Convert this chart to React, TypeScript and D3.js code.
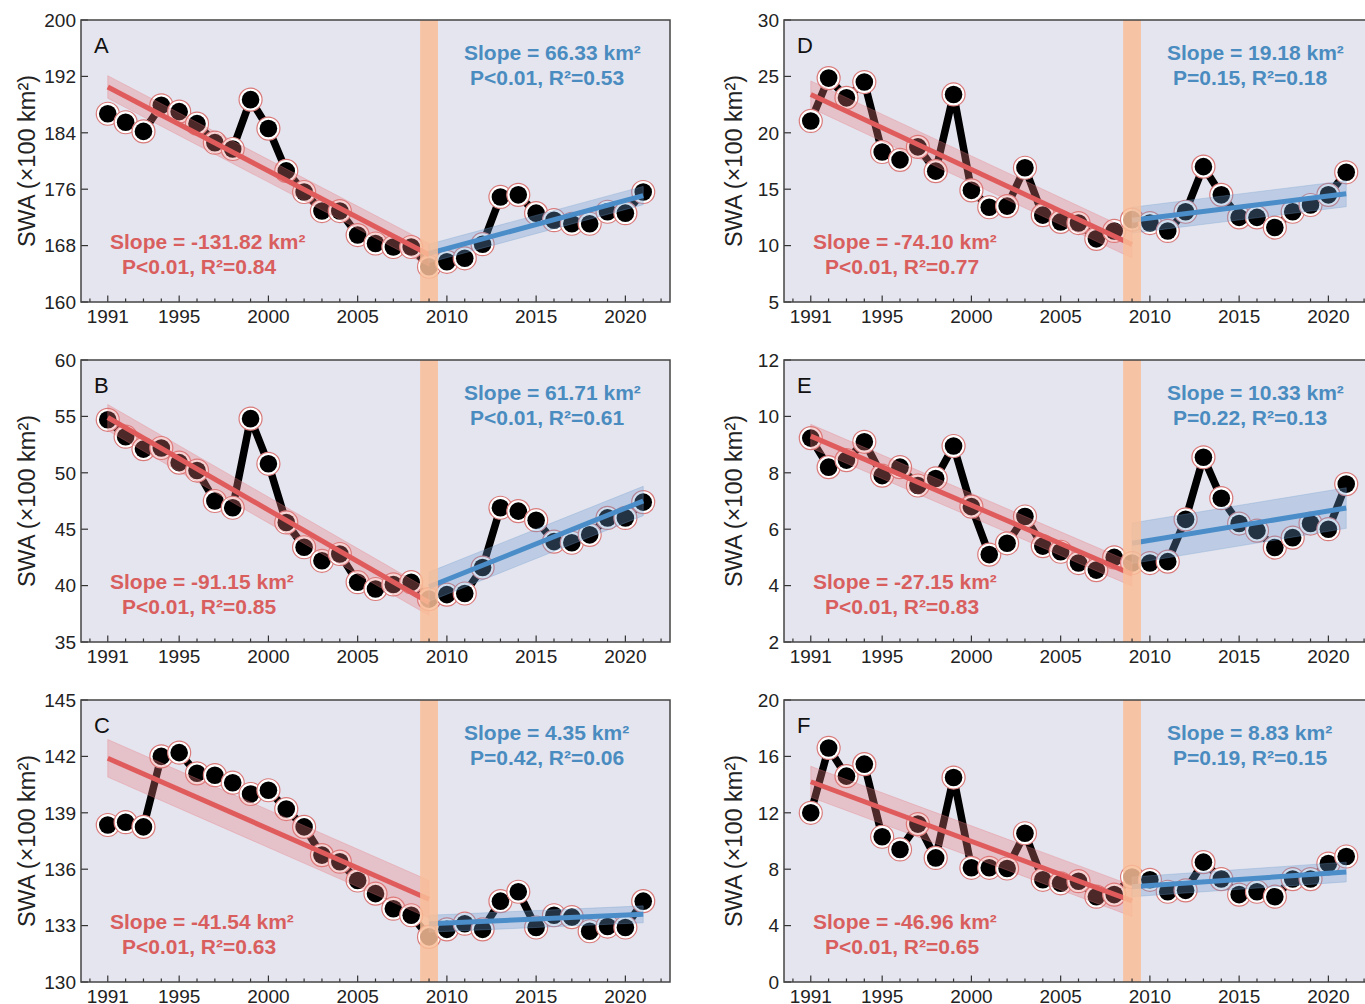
import React from 'react';
import * as d3 from 'd3';

// ---------- data ----------
const years = [1991, 1992, 1993, 1994, 1995, 1996, 1997, 1998, 1999, 2000, 2001, 2002, 2003, 2004, 2005, 2006, 2007, 2008, 2009, 2010, 2011, 2012, 2013, 2014, 2015, 2016, 2017, 2018, 2019, 2020, 2021];

const swaA = [186.7, 185.5, 184.2, 187.9, 187.0, 185.3, 182.6, 181.7, 188.7, 184.6, 178.6, 175.6, 172.9, 172.9, 169.5, 168.3, 167.8, 167.8, 165.0, 165.7, 166.2, 168.2, 174.9, 175.2, 172.6, 171.6, 171.1, 171.1, 172.8, 172.6, 175.6];
const swaB = [54.7, 53.2, 52.1, 52.2, 50.9, 50.2, 47.5, 46.9, 54.8, 50.8, 45.6, 43.4, 42.2, 42.8, 40.3, 39.7, 40.1, 40.3, 38.8, 39.2, 39.3, 41.6, 46.9, 46.6, 45.8, 43.9, 43.8, 44.5, 46.0, 46.0, 47.4];
const swaC = [138.35, 138.5, 138.25, 142.0, 142.2, 141.1, 141.0, 140.6, 140.0, 140.2, 139.2, 138.25, 136.75, 136.4, 135.4, 134.7, 133.9, 133.55, 132.4, 132.8, 133.1, 132.8, 134.3, 134.8, 132.9, 133.55, 133.45, 132.7, 132.95, 132.9, 134.3];
const swaD = [21.05, 24.85, 23.1, 24.5, 18.3, 17.6, 18.75, 16.6, 23.4, 14.9, 13.4, 13.5, 16.9, 12.7, 12.1, 12.0, 10.6, 11.3, 12.3, 12.0, 11.3, 13.0, 17.0, 14.5, 12.5, 12.5, 11.6, 13.0, 13.6, 14.5, 16.5];
const swaE = [9.23, 8.2, 8.45, 9.1, 7.9, 8.2, 7.55, 7.8, 8.95, 6.8, 5.1, 5.5, 6.45, 5.4, 5.2, 4.8, 4.55, 5.0, 4.8, 4.8, 4.85, 6.35, 8.55, 7.1, 6.2, 5.95, 5.35, 5.7, 6.2, 6.0, 7.6];
const swaF = [12.0, 16.6, 14.6, 15.45, 10.3, 9.4, 11.2, 8.8, 14.5, 8.1, 8.1, 8.05, 10.55, 7.25, 7.0, 7.15, 6.05, 6.2, 7.45, 7.25, 6.4, 6.5, 8.5, 7.3, 6.2, 6.4, 6.05, 7.3, 7.3, 8.4, 8.9];

// trend segments: [value at start year, value at end year]
const redYears = [1991, 2009];
const blueYears = [2009, 2021];
const redTrendA = [190.5, 166.7];
const blueTrendA = [166.9, 175.1];
const redTrendB = [54.9, 38.5];
const blueTrendB = [39.9, 47.5];
const redTrendC = [141.9, 134.4];
const blueTrendC = [133.1, 133.6];
const redTrendD = [23.4, 10.1];
const blueTrendD = [12.25, 14.6];
const redTrendE = [9.3, 4.4];
const blueTrendE = [5.5, 6.75];
const redTrendF = [14.2, 5.75];
const blueTrendF = [6.75, 7.8];
// half-width of confidence bands (data units): [red, blue]
const bandA = [1.6, 1.3];
const bandB = [1.15, 1.3];
const bandC = [1.0, 0.45];
const bandD = [1.2, 1.15];
const bandE = [0.42, 0.72];
const bandF = [1.1, 0.7];

const yTicksA = [160, 168, 176, 184, 192, 200];
const yTicksB = [35, 40, 45, 50, 55, 60];
const yTicksC = [130, 133, 136, 139, 142, 145];
const yTicksD = [5, 10, 15, 20, 25, 30];
const yTicksE = [2, 4, 6, 8, 10, 12];
const yTicksF = [0, 4, 8, 12, 16, 20];

const xTickLabels = [1991, 1995, 2000, 2005, 2010, 2015, 2020];
const xMinorTicks = [1990, 1991, 1992, 1993, 1994, 1995, 1996, 1997, 1998, 1999, 2000, 2001, 2002, 2003, 2004, 2005, 2006, 2007, 2008, 2009, 2010, 2011, 2012, 2013, 2014, 2015, 2016, 2017, 2018, 2019, 2020, 2021, 2022];
const breakYear = 2009;

const redLabels = [
  ['Slope = -131.82 km²', 'P<0.01, R²=0.84'],
  ['Slope = -91.15 km²', 'P<0.01, R²=0.85'],
  ['Slope = -41.54 km²', 'P<0.01, R²=0.63'],
  ['Slope = -74.10 km²', 'P<0.01, R²=0.77'],
  ['Slope = -27.15 km²', 'P<0.01, R²=0.83'],
  ['Slope = -46.96 km²', 'P<0.01, R²=0.65'],
];
const blueLabels = [
  ['Slope = 66.33 km²', 'P<0.01, R²=0.53'],
  ['Slope = 61.71 km²', 'P<0.01, R²=0.61'],
  ['Slope = 4.35 km²', 'P=0.42, R²=0.06'],
  ['Slope = 19.18 km²', 'P=0.15, R²=0.18'],
  ['Slope = 10.33 km²', 'P=0.22, R²=0.13'],
  ['Slope = 8.83 km²', 'P=0.19, R²=0.15'],
];
const panelIds = ['A', 'B', 'C', 'D', 'E', 'F'];

const panels = [
  { values: swaA, ticks: yTicksA, red: redTrendA, blue: blueTrendA, band: bandA, col: 0, row: 0 },
  { values: swaB, ticks: yTicksB, red: redTrendB, blue: blueTrendB, band: bandB, col: 0, row: 1 },
  { values: swaC, ticks: yTicksC, red: redTrendC, blue: blueTrendC, band: bandC, col: 0, row: 2 },
  { values: swaD, ticks: yTicksD, red: redTrendD, blue: blueTrendD, band: bandD, col: 1, row: 0 },
  { values: swaE, ticks: yTicksE, red: redTrendE, blue: blueTrendE, band: bandE, col: 1, row: 1 },
  { values: swaF, ticks: yTicksF, red: redTrendF, blue: blueTrendF, band: bandF, col: 1, row: 2 },
];

// ---------- layout ----------
const W = 1365;
const H = 1004;
const colLeft = [81, 784];
const titleOffset = [54, 50];
const rowTop = [20, 360, 700];
const PW = 589;
const PH = 282;
const FONT = '"Liberation Sans", Arial, Helvetica, sans-serif';
const BG = '#e5e5ef';
const RED = '#e05c5c';
const RED_TXT = '#d95f5f';
const BLUE = '#4a8dc8';
const BLUE_TXT = '#4a8cc0';

function Panel({ p, i }: { p: any; i: number }) {
  const left = colLeft[p.col];
  const top = rowTop[p.row];
  const x = d3.scaleLinear().domain([1989.5, 2022.5]).range([left, left + PW]);
  const y = d3.scaleLinear().domain([p.ticks[0], p.ticks[p.ticks.length - 1]]).range([top + PH, top]);
  const line = d3.line<number>().x((_, k) => x(years[k])).y((v) => y(v));
  const clipId = `clip${i}`;

  const bandPath = (yrs: number[], vals: number[], h: number) =>
    `M${x(yrs[0])},${y(vals[0] + h)}L${x(yrs[1])},${y(vals[1] + h)}L${x(yrs[1])},${y(vals[1] - h)}L${x(yrs[0])},${y(vals[0] - h)}Z`;

  return (
    <g>
      <defs>
        <clipPath id={clipId}>
          <rect x={left} y={top} width={PW} height={PH} />
        </clipPath>
      </defs>
      <rect x={left} y={top} width={PW} height={PH} fill={BG} />
      <g clipPath={`url(#${clipId})`}>
        <path d={line(p.values) || ''} fill="none" stroke="#000" strokeWidth={7.5} strokeLinejoin="round" />
        {p.values.map((v: number, k: number) => (
          <g key={k}>
            <circle cx={x(years[k])} cy={y(v)} r={11.5} fill="#fff" stroke="#d97a7a" strokeWidth={1.2} />
            <circle cx={x(years[k])} cy={y(v)} r={8.8} fill="#000" />
          </g>
        ))}
        <path d={bandPath(redYears, p.red, p.band[0])} fill="rgb(232,120,125)" fillOpacity={0.33} stroke="rgb(232,120,125)" strokeOpacity={0.3} strokeWidth={1} />
        <line x1={x(redYears[0])} y1={y(p.red[0])} x2={x(redYears[1])} y2={y(p.red[1])} stroke={RED} strokeWidth={5} />
        <path d={bandPath(blueYears, p.blue, p.band[1])} fill="rgb(110,155,205)" fillOpacity={0.33} stroke="rgb(110,155,205)" strokeOpacity={0.3} strokeWidth={1} />
        <line x1={x(blueYears[0])} y1={y(p.blue[0])} x2={x(blueYears[1])} y2={y(p.blue[1])} stroke={BLUE} strokeWidth={5} />
        <rect x={x(breakYear - 0.5)} y={top} width={x(breakYear + 0.5) - x(breakYear - 0.5)} height={PH} fill="#f9bd96" fillOpacity={0.85} />
      </g>
      {xMinorTicks.map((t) => {
        const major = xTickLabels.includes(t);
        return <line key={t} x1={x(t)} x2={x(t)} y1={top + PH} y2={top + PH - (major ? 6.5 : 3.5)} stroke="#333" strokeWidth={1.2} />;
      })}
      {xTickLabels.map((t) => (
        <text key={t} x={x(t)} y={top + PH + 21} textAnchor="middle" fontSize={19} fill="#222" fontFamily={FONT}>{t}</text>
      ))}
      {p.ticks.map((t: number) => (
        <g key={t}>
          <line x1={left} x2={left + 7} y1={y(t)} y2={y(t)} stroke="#333" strokeWidth={1.2} />
          <text x={left - 5} y={y(t)} dy="0.36em" textAnchor="end" fontSize={19} fill="#222" fontFamily={FONT}>{t}</text>
        </g>
      ))}
      <rect x={left} y={top} width={PW} height={PH} fill="none" stroke="#444" strokeWidth={1.5} />
      <text transform={`translate(${left - titleOffset[p.col]},${top + PH / 2}) rotate(-90)`} textAnchor="middle" dy="0.35em" fontSize={23.5} fill="#222" fontFamily={FONT}>SWA (×100 km²)</text>
      <text x={left + 13} y={top + 33} fontSize={22} fill="#111" fontFamily={FONT}>{panelIds[i]}</text>
      <text x={left + 29} y={top + 229} fontSize={21} fontWeight="bold" fill={RED_TXT} fontFamily={FONT}>{redLabels[i][0]}</text>
      <text x={left + 41} y={top + 254} fontSize={21} fontWeight="bold" fill={RED_TXT} fontFamily={FONT}>{redLabels[i][1]}</text>
      <text x={left + 383} y={top + 40} fontSize={21} fontWeight="bold" fill={BLUE_TXT} fontFamily={FONT}>{blueLabels[i][0]}</text>
      <text x={left + 389} y={top + 65} fontSize={21} fontWeight="bold" fill={BLUE_TXT} fontFamily={FONT}>{blueLabels[i][1]}</text>
    </g>
  );
}

export default function App() {
  return (
    <svg width={W} height={H} viewBox={`0 0 ${W} ${H}`} style={{ position: 'absolute', left: 0, top: 0, background: '#fff' }}>
      <rect x={0} y={0} width={W} height={H} fill="#fff" />
      {panels.map((p, i) => (
        <Panel key={i} p={p} i={i} />
      ))}
    </svg>
  );
}
